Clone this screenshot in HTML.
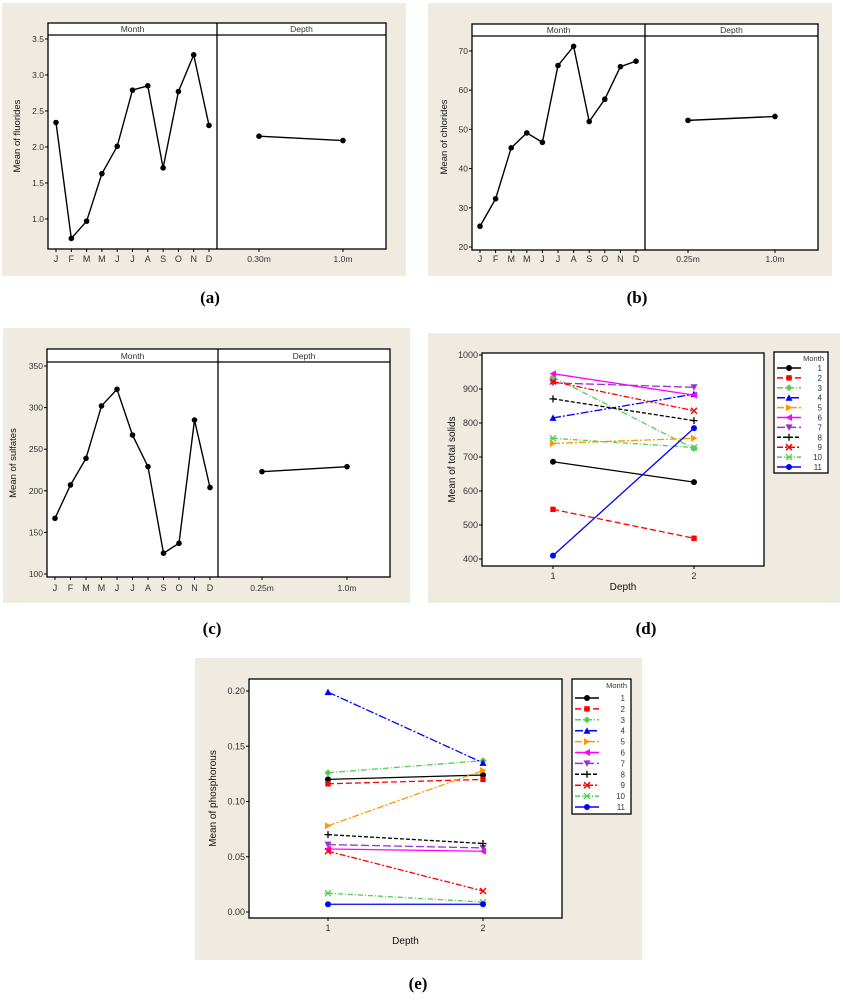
<!DOCTYPE html>
<html><head><meta charset="utf-8"><style>
html,body{margin:0;padding:0;background:#fff}
svg{display:block;font-family:"Liberation Sans",sans-serif}
</style></head><body>
<svg id="s" width="843" height="1000" viewBox="0 0 843 1000"></svg>
<script>
const months = ["J","F","M","M","J","J","A","S","O","N","D"];
const fluorMonth = [2.34,0.73,0.97,1.63,2.01,2.79,2.85,1.71,2.77,3.28,2.30];
const fluorDepth = [2.15,2.09];
const fluorDepthLabels = ["0.30m","1.0m"];
const fluorTicks = [1.0,1.5,2.0,2.5,3.0,3.5];
const chlorMonth = [25.3,32.3,45.3,49.1,46.7,66.3,71.2,52.0,57.7,66.0,67.4];
const chlorDepth = [52.3,53.3];
const chlorDepthLabels = ["0.25m","1.0m"];
const chlorTicks = [20,30,40,50,60,70];
const sulfMonth = [167,207,239,302,322,267,229,125,137,285,204];
const sulfDepth = [223,229];
const sulfDepthLabels = ["0.25m","1.0m"];
const sulfTicks = [100,150,200,250,300,350];
const legendMonths = ["1","2","3","4","5","6","7","8","9","10","11"];
const solidsD1 = [686,546,935,815,740,945,918,871,922,755,410];
const solidsD2 = [626,461,725,885,755,882,905,807,836,728,785];
const solidsTicks = [400,500,600,700,800,900,1000];
const phosD1 = [0.120,0.116,0.126,0.199,0.078,0.057,0.061,0.070,0.055,0.017,0.007];
const phosD2 = [0.124,0.120,0.137,0.135,0.128,0.055,0.058,0.062,0.019,0.009,0.007];
const phosTicks = [0.00,0.05,0.10,0.15,0.20];
const depthTicks = ["1","2"];

const S=document.getElementById('s');const NS="http://www.w3.org/2000/svg";
function el(t,a,p){const e=document.createElementNS(NS,t);for(const k in a)e.setAttribute(k,a[k]);(p||S).appendChild(e);return e;}
function txt(x,y,s,a,p){const e=el('text',Object.assign({x:x,y:y,'font-size':9,fill:'#333'},a||{}),p);e.textContent=s;return e;}
const BG='#efebe1';

function mainEffects(name,o,mv,dv,dl,ticks,ylab,tmin,tmax,tfmt){
 const g=el('g',{});
 
 
 const bg=el('rect',{x:o.bx,y:o.by,width:o.bw,height:o.bh,fill:BG},g);
 
 const fr=el('rect',{x:o.fx1,y:o.fy1,width:o.fx2-o.fx1,height:o.fy2-o.fy1,fill:'#fff',stroke:'#000','stroke-width':1.3},g);
 
 el('line',{x1:o.fx1,x2:o.fx2,y1:o.hy,y2:o.hy,stroke:'#000','stroke-width':1.3},g);
 el('line',{x1:o.dx,x2:o.dx,y1:o.fy1,y2:o.fy2,stroke:'#000','stroke-width':1.3},g);
 const h1=txt((o.fx1+o.dx)/2,o.hy-3,'Month',{'text-anchor':'middle','font-size':8.5},g);
 
 const h2=txt((o.dx+o.fx2)/2,o.hy-3,'Depth',{'text-anchor':'middle','font-size':8.5},g);
 
 const Y=v=>o.y0+(v-tmin)/(tmax-tmin)*(o.y1-o.y0);
 ticks.forEach(t=>{el('line',{x1:o.fx1-3,x2:o.fx1,y1:Y(t),y2:Y(t),stroke:'#000'},g);
  const tl=txt(o.fx1-4,Y(t)+3,tfmt(t),{'text-anchor':'end','font-size':8.5},g);
  });
 const X=i=>o.mx0+i*(o.mx1-o.mx0)/(mv.length-1);
 months.forEach((m,i)=>{el('line',{x1:X(i),x2:X(i),y1:o.fy2,y2:o.fy2+3,stroke:'#000'},g);
  const tl=txt(X(i),o.ty,m,{'text-anchor':'middle','font-size':9},g);
  });
 const DX=i=>o.d0+i*(o.d1-o.d0);
 dl.forEach((m,i)=>{el('line',{x1:DX(i),x2:DX(i),y1:o.fy2,y2:o.fy2+3,stroke:'#000'},g);
  const tl=txt(DX(i),o.ty,m,{'text-anchor':'middle','font-size':8.5},g);
  });
 const l1=el('polyline',{points:mv.map((v,i)=>X(i)+','+Y(v)).join(' '),fill:'none',stroke:'#000','stroke-width':1.4},g);
 
 mv.forEach((v,i)=>{const c=el('circle',{cx:X(i),cy:Y(v),r:2.8,fill:'#000'},g);
  });
 const l2=el('polyline',{points:dv.map((v,i)=>DX(i)+','+Y(v)).join(' '),fill:'none',stroke:'#000','stroke-width':1.4},g);
 
 dv.forEach((v,i)=>{const c=el('circle',{cx:DX(i),cy:Y(v),r:2.8,fill:'#000'},g);
  });
 const yl=txt(0,0,ylab,{'text-anchor':'middle','font-size':9.5,fill:'#111',transform:`translate(${o.yl},${(o.fy1+o.fy2)/2}) rotate(-90)`},g);
 
}

mainEffects('fluorides-chart',{bx:2,by:3,bw:404,bh:273,fx1:48,fx2:386,fy1:23,fy2:249,hy:35,dx:217,y0:219,y1:39,mx0:56,mx1:209,d0:259,d1:343,ty:262,yl:20},fluorMonth,fluorDepth,fluorDepthLabels,fluorTicks,'Mean of fluorides',1.0,3.5,t=>t.toFixed(1));
mainEffects('chlorides-chart',{bx:428,by:3,bw:404,bh:273,fx1:472,fx2:818,fy1:24,fy2:250,hy:36,dx:645,y0:247,y1:51,mx0:480,mx1:636,d0:688,d1:775,ty:262,yl:447},chlorMonth,chlorDepth,chlorDepthLabels,chlorTicks,'Mean of chlorides',20,70,t=>String(t));
mainEffects('sulfates-chart',{bx:3,by:328,bw:407,bh:275,fx1:47,fx2:390,fy1:349,fy2:577,hy:362,dx:218,y0:574,y1:366,mx0:55,mx1:210,d0:262,d1:347,ty:591,yl:16},sulfMonth,sulfDepth,sulfDepthLabels,sulfTicks,'Mean of sulfates',100,350,t=>String(t));

const COLORS=['#000','#f00','#5c5','#00f','#f90','#f0f','#93c','#000','#f00','#5c5','#00f'];
const DASH=['none','6,3','6,2,1,2','8,2,2,2','7,2,2,2','none','8,3','4,2','6,2,2,2','5,2,1,2','none'];
function marker(g,k,x,y,c){
 let e;
 switch(k){
  case 0:case 10:e=el('circle',{cx:x,cy:y,r:3,fill:c},g);break;
  case 1:e=el('rect',{x:x-2.7,y:y-2.7,width:5.4,height:5.4,fill:c},g);break;
  case 2:e=el('polygon',{points:`${x},${y-3.5} ${x+3.5},${y} ${x},${y+3.5} ${x-3.5},${y}`,fill:c},g);break;
  case 3:e=el('polygon',{points:`${x},${y-3.5} ${x+3.5},${y+3} ${x-3.5},${y+3}`,fill:c},g);break;
  case 4:e=el('polygon',{points:`${x+3.5},${y} ${x-3},${y-3.5} ${x-3},${y+3.5}`,fill:c},g);break;
  case 5:e=el('polygon',{points:`${x-3.5},${y} ${x+3},${y-3.5} ${x+3},${y+3.5}`,fill:c},g);break;
  case 6:e=el('polygon',{points:`${x},${y+3.5} ${x+3.5},${y-3} ${x-3.5},${y-3}`,fill:c},g);break;
  case 7:e=el('path',{d:`M${x-3.5},${y}H${x+3.5}M${x},${y-3.5}V${y+3.5}`,stroke:c,'stroke-width':1.3},g);break;
  case 8:e=el('path',{d:`M${x-3},${y-3}L${x+3},${y+3}M${x-3},${y+3}L${x+3},${y-3}`,stroke:c,'stroke-width':1.5},g);break;
  case 9:e=el('path',{d:`M${x-3},${y-3}L${x+3},${y+3}M${x-3},${y+3}L${x+3},${y-3}M${x-3.5},${y}H${x+3.5}`,stroke:c,'stroke-width':1.3},g);break;
 }
 
 
}
function interaction(name,o,d1,d2,ticks,tmin,tmax,tfmt,ylab){
 const g=el('g',{});
 
 
 const bg=el('rect',{x:o.bx,y:o.by,width:o.bw,height:o.bh,fill:BG},g);
 
 const fr=el('rect',{x:o.fx1,y:o.fy1,width:o.fx2-o.fx1,height:o.fy2-o.fy1,fill:'#fff',stroke:'#000','stroke-width':1.3},g);
 
 const Y=v=>o.y0+(v-tmin)/(tmax-tmin)*(o.y1-o.y0);
 ticks.forEach(t=>{el('line',{x1:o.fx1-3,x2:o.fx1,y1:Y(t),y2:Y(t),stroke:'#000'},g);
  const tl=txt(o.fx1-4,Y(t)+3,tfmt(t),{'text-anchor':'end','font-size':9},g);
  });
 const X=i=>o.x1+i*(o.x2-o.x1);
 depthTicks.forEach((d,i)=>{el('line',{x1:X(i),x2:X(i),y1:o.fy2,y2:o.fy2+3,stroke:'#000'},g);
  const tl=txt(X(i),o.fy2+13,d,{'text-anchor':'middle','font-size':9},g);
  });
 const xt=txt((o.fx1+o.fx2)/2,o.xly,'Depth',{'text-anchor':'middle','font-size':10,fill:'#111'},g);
 
 const yt=txt(0,0,ylab,{'text-anchor':'middle','font-size':10,fill:'#111',transform:`translate(${o.yl},${(o.fy1+o.fy2)/2}) rotate(-90)`},g);
 
 d1.forEach((v,i)=>{
  const ln=el('line',{x1:X(0),y1:Y(v),x2:X(1),y2:Y(d2[i]),stroke:COLORS[i],'stroke-width':1.3,'stroke-dasharray':DASH[i]},g);
  
  
  marker(g,i,X(0),Y(v),COLORS[i]);marker(g,i,X(1),Y(d2[i]),COLORS[i]);
 });
 const lg=el('g',{},g);
 
 
 el('rect',{x:o.lx1,y:o.ly1,width:o.lx2-o.lx1,height:o.ly2-o.ly1,fill:'#fff',stroke:'#000','stroke-width':1.3},lg);
 txt(o.lx2-4,o.ly1+9,'Month',{'text-anchor':'end','font-size':7.5},lg);
 legendMonths.forEach((m,i)=>{
  const y=o.le0+i*o.ls;
  const en=el('g',{},lg);
  
  
  el('line',{x1:o.lx1+3,x2:o.lx1+27,y1:y,y2:y,stroke:COLORS[i],'stroke-width':1.5,'stroke-dasharray':DASH[i]},en);
  marker(en,i,o.lx1+15,y,COLORS[i]);
  txt(o.lx2-6,y+3,m,{'text-anchor':'end','font-size':8},en);
 });
}
interaction('total-solids-chart',{bx:428,by:333,bw:412,bh:270,fx1:482,fx2:764,fy1:353,fy2:566,y0:559,y1:355,x1:553,x2:694,xly:590,yl:455,lx1:774,lx2:828,ly1:352,ly2:473,le0:368,ls:9.9},solidsD1,solidsD2,solidsTicks,400,1000,t=>String(t),'Mean of total solids');
interaction('phosphorous-chart',{bx:195,by:658,bw:447,bh:302,fx1:249,fx2:562,fy1:679,fy2:918,y0:912,y1:691,x1:328,x2:483,xly:944,yl:216,lx1:572,lx2:631,ly1:679,ly2:814,le0:698,ls:10.9},phosD1,phosD2,phosTicks,0,0.2,t=>t.toFixed(2),'Mean of phosphorous');

[['(a)',210,303],['(b)',637,303],['(c)',212,634],['(d)',646,634],['(e)',418,989]].forEach(c=>{
 const t=txt(c[1],c[2],c[0],{'text-anchor':'middle','font-size':17,'font-weight':'bold',fill:'#000','font-family':'Liberation Serif, serif'});
 
 
});
</script>
</body></html>
